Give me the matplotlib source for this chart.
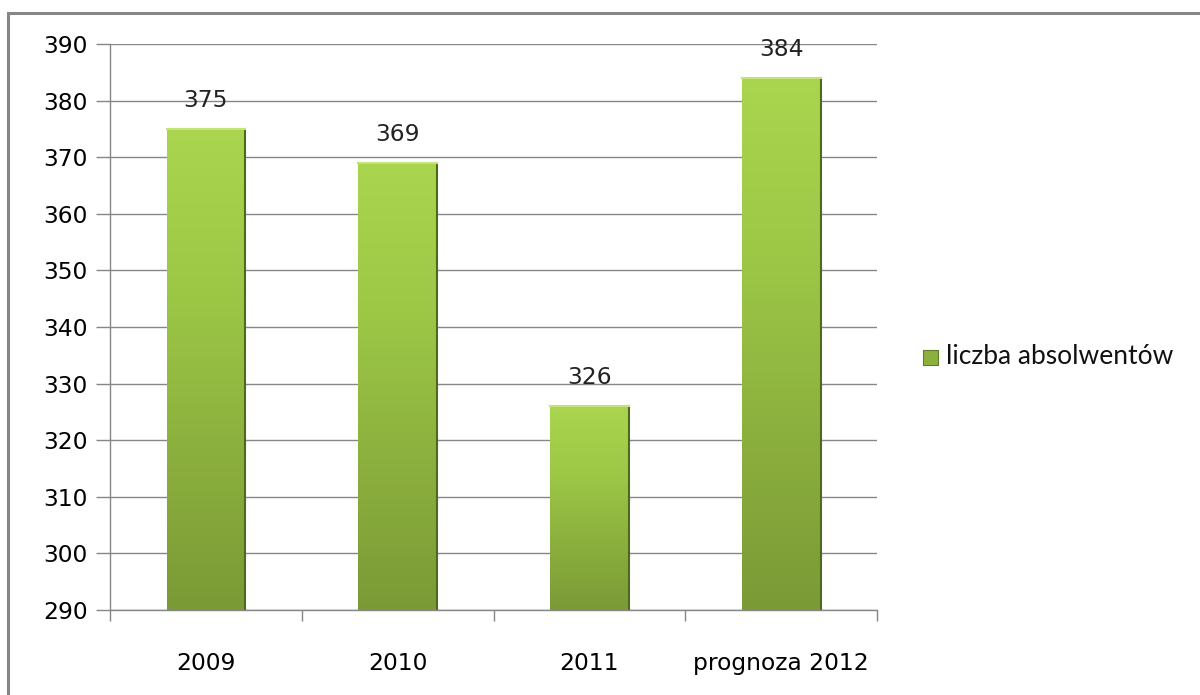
import matplotlib.pyplot as plt
from matplotlib.colors import LinearSegmentedColormap
from matplotlib.patches import Rectangle
import numpy as np

categories = ['2009', '2010', '2011', 'prognoza 2012']
values = [375, 369, 326, 384]
series_name = 'liczba absolwentów'

fig = plt.figure(figsize=(12, 6.95), dpi=100)
ax = fig.add_axes([0.0917, 0.1223, 0.6392, 0.8144])

# frame around the whole chart (right/bottom edges fall outside the image)
fig.patches.append(Rectangle((8 / 1200, -0.05), 1.2, 1 - 12.5 / 695 + 0.05,
                             transform=fig.transFigure, fill=False,
                             edgecolor='#868686', linewidth=2.2, zorder=0))

x = np.arange(len(categories))
width = 0.41
ymin, ymax = 290, 390
fs = 16.8

bars = ax.bar(x, values, width=width, color='none', edgecolor='none', zorder=3)

# vertical green gradient clipped to each bar
cmap = LinearSegmentedColormap.from_list(
    'grn', ['#7a9a36', '#8cb03e', '#9cc846', '#aad54f'])
grad = np.linspace(0, 1, 256).reshape(-1, 1)
for b in bars:
    x0, w, h = b.get_x(), b.get_width(), b.get_height()
    im = ax.imshow(grad, cmap=cmap, origin='lower', aspect='auto',
                   extent=(x0, x0 + w, ymin, h), zorder=3)
    im.set_clip_path(b)
    # thin dark edge on the right and a light cap at the top
    ax.plot([x0 + w, x0 + w], [ymin, h], color='#4f6a20', lw=1.5, zorder=4)
    ax.plot([x0, x0 + w], [h, h], color='#c4e47a', lw=1.5, zorder=4)

for xi, v in zip(x, values):
    ax.text(xi, v + 3.0, str(v), ha='center', va='bottom', fontsize=fs,
            color='#222222', zorder=5)

ax.set_xlim(-0.5, len(categories) - 0.5)
ax.set_ylim(ymin, ymax)
ax.set_yticks(np.arange(290, 391, 10))
ax.set_xticks(x)
ax.set_xticklabels(categories)
ax.set_xticks(np.arange(-0.5, len(categories), 1), minor=True)
ax.tick_params(axis='x', which='major', length=0, pad=30, labelsize=fs)
ax.tick_params(axis='x', which='minor', length=8, width=1.0, color='#868686')
ax.tick_params(axis='y', length=10, width=1.0, color='#868686', pad=6,
               labelsize=fs, direction='out')
ax.yaxis.grid(True, color='#868686', linewidth=1.0, zorder=0)
ax.set_axisbelow(True)
for side in ['top', 'right']:
    ax.spines[side].set_visible(False)
for side in ['left', 'bottom']:
    ax.spines[side].set_color('#868686')
    ax.spines[side].set_linewidth(1.0)

# legend
fig.patches.append(Rectangle((923 / 1200, 1 - 365 / 695), 15 / 1200, 15 / 695,
                             transform=fig.transFigure, facecolor='#8cb03e',
                             edgecolor='#5f7f28', linewidth=0.8))
fig.text(946 / 1200, 1 - 357 / 695, series_name, fontsize=19, family='Lato',
         va='center', ha='left', color='#111111')

fig.savefig('out.png', dpi=100)
